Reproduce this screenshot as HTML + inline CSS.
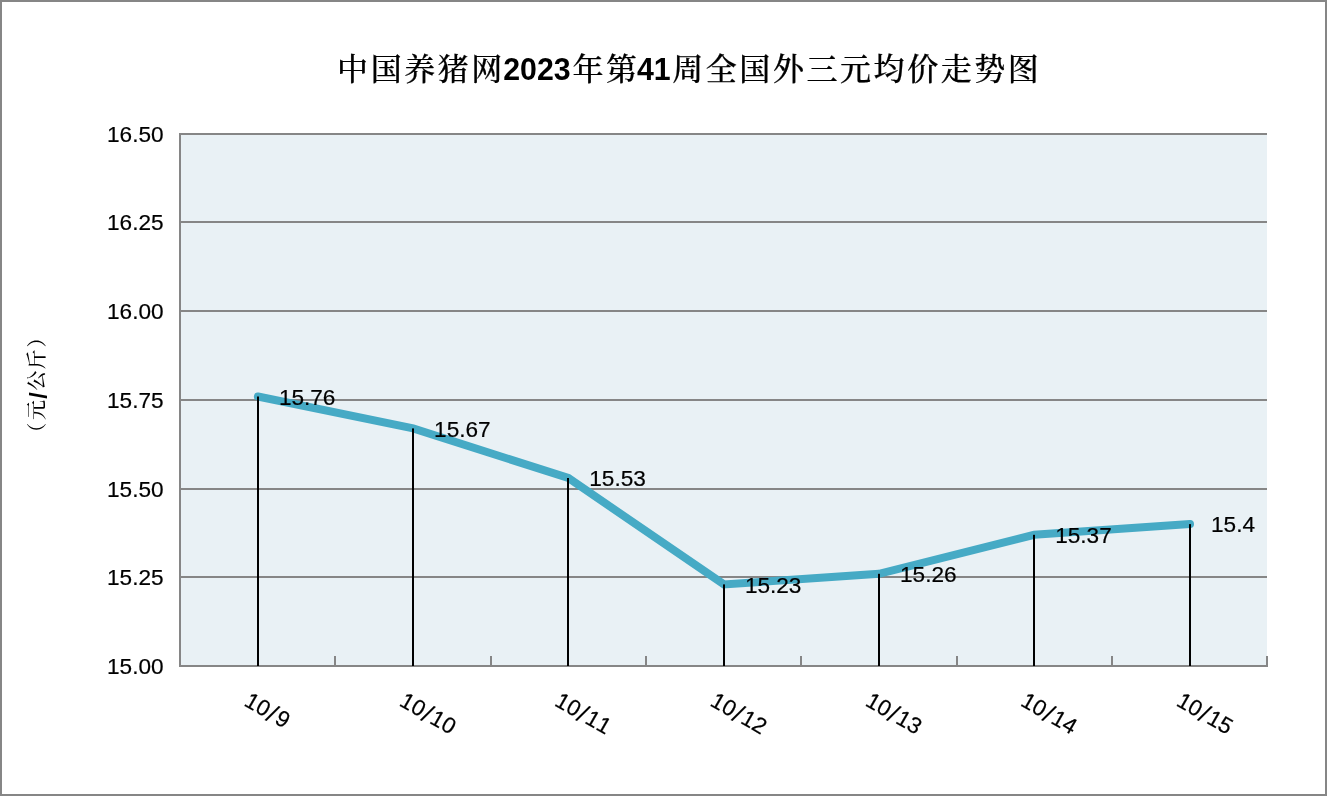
<!DOCTYPE html>
<html lang="zh-CN"><head><meta charset="utf-8"><title>中国养猪网2023年第41周全国外三元均价走势图</title>
<style>
html,body{margin:0;padding:0;background:#fff;}
body{width:1327px;height:797px;overflow:hidden;position:relative;}
svg{position:absolute;left:0;top:0;display:block;}
text{fill:#000;}
.num{font-family:"Liberation Sans",sans-serif;font-size:22.6px;font-kerning:none;stroke:#000;stroke-width:0.2px;}
.cjk{font-family:"Liberation Serif","Noto Serif CJK SC",serif;font-size:31px;font-weight:500;stroke:#000;stroke-width:0.25px;}
.tnum{font-family:"Liberation Sans",sans-serif;font-size:32px;font-weight:bold;}
.ycjk{font-family:"Liberation Serif","Noto Serif CJK SC",serif;font-size:20px;font-weight:500;}
.yslash{font-family:"Liberation Sans",sans-serif;font-size:23px;font-weight:bold;}
</style></head><body>
<svg width="1327" height="797" viewBox="0 0 1327 797">
<rect x="0" y="0" width="1327" height="797" fill="#fff"/>
<rect x="1" y="1" width="1325" height="794" fill="#fff" stroke="#868686" stroke-width="2"/>
<rect x="180" y="134" width="1087" height="532" fill="#E9F1F5"/>
<rect x="179" y="133" width="1088" height="2" fill="#868686"/>
<rect x="179" y="221" width="1088" height="2" fill="#868686"/>
<rect x="179" y="310" width="1088" height="2" fill="#868686"/>
<rect x="179" y="399" width="1088" height="2" fill="#868686"/>
<rect x="179" y="488" width="1088" height="2" fill="#868686"/>
<rect x="179" y="576" width="1088" height="2" fill="#868686"/>
<rect x="179" y="665" width="1088" height="2" fill="#868686"/>
<rect x="179" y="133" width="2" height="534" fill="#868686"/>
<rect x="334" y="656" width="2" height="11" fill="#868686"/>
<rect x="490" y="656" width="2" height="11" fill="#868686"/>
<rect x="645" y="656" width="2" height="11" fill="#868686"/>
<rect x="800" y="656" width="2" height="11" fill="#868686"/>
<rect x="956" y="656" width="2" height="11" fill="#868686"/>
<rect x="1111" y="656" width="2" height="11" fill="#868686"/>
<rect x="1266" y="656" width="2" height="11" fill="#868686"/>
<polyline points="257.9,396.5 413.1,428.4 568.3,478.0 723.9,584.4 879.0,573.8 1034.2,534.8 1190.0,524.1" fill="none" stroke="#46AAC5" stroke-width="8" stroke-linecap="round" stroke-linejoin="miter"/>
<rect x="257" y="396.5" width="2" height="269.5" fill="#000"/>
<rect x="412" y="428.4" width="2" height="237.6" fill="#000"/>
<rect x="567" y="478.0" width="2" height="188.0" fill="#000"/>
<rect x="723" y="584.4" width="2" height="81.6" fill="#000"/>
<rect x="878" y="573.8" width="2" height="92.2" fill="#000"/>
<rect x="1033" y="534.8" width="2" height="131.2" fill="#000"/>
<rect x="1189" y="524.1" width="2" height="141.9" fill="#000"/>
<text class="num" x="278.9" y="404.8">15.76</text>
<text class="num" x="434.1" y="436.7">15.67</text>
<text class="num" x="589.3" y="486.3">15.53</text>
<text class="num" x="744.9" y="592.7">15.23</text>
<text class="num" x="900.0" y="582.1">15.26</text>
<text class="num" x="1055.2" y="543.1">15.37</text>
<text class="num" x="1211.0" y="532.4">15.4</text>
<text class="num" x="163.6" y="142.2" text-anchor="end">16.50</text>
<text class="num" x="163.6" y="230.2" text-anchor="end">16.25</text>
<text class="num" x="163.6" y="319.2" text-anchor="end">16.00</text>
<text class="num" x="163.6" y="408.2" text-anchor="end">15.75</text>
<text class="num" x="163.6" y="497.2" text-anchor="end">15.50</text>
<text class="num" x="163.6" y="585.2" text-anchor="end">15.25</text>
<text class="num" x="163.6" y="674.2" text-anchor="end">15.00</text>
<text class="num" transform="translate(243.1,705) rotate(30)" x="0" y="0">10<tspan dx="1.0" dy="1.8" font-size="26">/</tspan><tspan dx="1.6" dy="-1.8">9</tspan></text>
<text class="num" transform="translate(398.3,705) rotate(30)" x="0" y="0">10<tspan dx="1.0" dy="1.8" font-size="26">/</tspan><tspan dx="1.6" dy="-1.8">10</tspan></text>
<text class="num" transform="translate(553.5,705) rotate(30)" x="0" y="0">10<tspan dx="1.0" dy="1.8" font-size="26">/</tspan><tspan dx="1.6" dy="-1.8">11</tspan></text>
<text class="num" transform="translate(709.1,705) rotate(30)" x="0" y="0">10<tspan dx="1.0" dy="1.8" font-size="26">/</tspan><tspan dx="1.6" dy="-1.8">12</tspan></text>
<text class="num" transform="translate(864.2,705) rotate(30)" x="0" y="0">10<tspan dx="1.0" dy="1.8" font-size="26">/</tspan><tspan dx="1.6" dy="-1.8">13</tspan></text>
<text class="num" transform="translate(1019.4,705) rotate(30)" x="0" y="0">10<tspan dx="1.0" dy="1.8" font-size="26">/</tspan><tspan dx="1.6" dy="-1.8">14</tspan></text>
<text class="num" transform="translate(1175.2,705) rotate(30)" x="0" y="0">10<tspan dx="1.0" dy="1.8" font-size="26">/</tspan><tspan dx="1.6" dy="-1.8">15</tspan></text>
<text class="cjk" x="337.09" y="79.7" letter-spacing="2.57">中国养猪网</text>
<text class="tnum" transform="translate(503.20,80) scale(0.947,1)" x="0" y="0">2023</text>
<text class="cjk" x="572.38" y="79.7" letter-spacing="2.57">年第</text>
<text class="tnum" transform="translate(636.90,80) scale(0.947,1)" x="0" y="0">41</text>
<text class="cjk" x="672.18" y="79.7" letter-spacing="2.57">周全国外三元均价走势图</text>
<text class="ycjk" transform="translate(44.0,450) rotate(-90)"><tspan x="7.2" y="0">（</tspan><tspan x="30.0" y="0">元</tspan><tspan class="yslash" x="51.3" y="2.6">/</tspan><tspan x="59.4" y="0">公</tspan><tspan x="80.5" y="0">斤</tspan><tspan x="102.5" y="0">）</tspan></text>
</svg></body></html>
